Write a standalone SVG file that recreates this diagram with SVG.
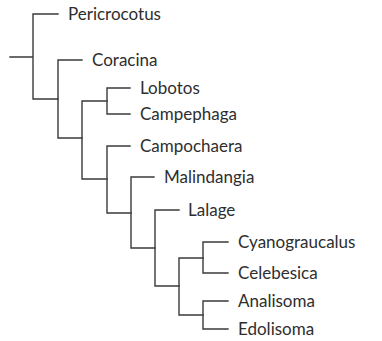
<svg xmlns="http://www.w3.org/2000/svg" width="382" height="341" viewBox="0 0 382 341">
<style>
.e{fill:none;stroke:#3a3a3a;stroke-width:1.4;stroke-linecap:square}
.t{font-family:Lato,"Liberation Sans",Arial,sans-serif;font-size:17px;fill:#2e2e2e}
</style>
<rect width="382" height="341" fill="#fff"/>
<g id="connectors">
<path class="e" d="M10,57H33M33,14V99M33,14H58M33,99H58"/>
<path class="e" d="M58,60V138M58,60H82M58,138H82"/>
<path class="e" d="M82,101V179M82,101H107M82,179H107"/>
<path class="e" d="M107,88V114M107,88H130M107,114H130"/>
<path class="e" d="M107,146V213M107,146H130M107,213H131"/>
<path class="e" d="M131,177V248M131,177H154M131,248H155"/>
<path class="e" d="M155,210V286M155,210H179M155,286H179"/>
<path class="e" d="M179,258V315M179,258H203M179,315H203"/>
<path class="e" d="M203,242V273M203,242H228M203,273H228"/>
<path class="e" d="M203,301V329M203,301H228M203,329H228"/>
</g>
<g id="n-pericrocotus"><text class="t" x="68" y="20">Pericrocotus</text></g>
<g id="n-coracina"><text class="t" x="92" y="66">Coracina</text></g>
<g id="n-lobotos"><text class="t" x="140" y="94">Lobotos</text></g>
<g id="n-campephaga"><text class="t" x="140" y="120">Campephaga</text></g>
<g id="n-campochaera"><text class="t" x="140" y="152">Campochaera</text></g>
<g id="n-malindangia"><text class="t" x="164" y="183">Malindangia</text></g>
<g id="n-lalage"><text class="t" x="188" y="216">Lalage</text></g>
<g id="n-cyanograucalus"><text class="t" x="238" y="248">Cyanograucalus</text></g>
<g id="n-celebesica"><text class="t" x="238" y="279">Celebesica</text></g>
<g id="n-analisoma"><text class="t" x="238" y="307">Analisoma</text></g>
<g id="n-edolisoma"><text class="t" x="238" y="335">Edolisoma</text></g>
</svg>
